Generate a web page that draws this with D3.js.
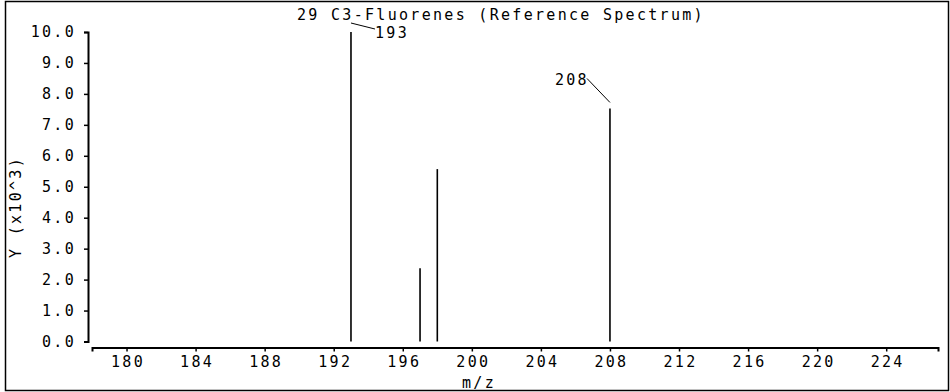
<!DOCTYPE html>
<html><head><meta charset="utf-8">
<script src="https://cdn.jsdelivr.net/npm/d3@7"></script>
<style>
html,body{margin:0;padding:0;background:#fff;}
text{font-family:"DejaVu Sans Mono",monospace;font-size:15px;fill:#000;letter-spacing:2.3px;}
</style></head>
<body>
<svg id="c" width="950" height="392"></svg>
<script>
const titleText = "29 C3-Fluorenes (Reference Spectrum)";
const mz = [193, 197, 198, 208];
const intensity = [10.0, 2.37, 5.57, 7.53];
const xTicks = [180, 184, 188, 192, 196, 200, 204, 208, 212, 216, 220, 224];
const yTicks = [0, 1, 2, 3, 4, 5, 6, 7, 8, 9, 10];
const labeledPeaks = [193, 208];
const xLabel = "m/z";
const yLabel = "Y (x10^3)";

const svg = d3.select("#c");
const x = d3.scaleLinear().domain([178, 227]).range([92, 938]);
const y = d3.scaleLinear().domain([0, 10]).range([341.5, 32]);

// frame
svg.append("rect").attr("x", 5.5).attr("y", 1.5).attr("width", 943).attr("height", 389)
  .attr("fill", "none").attr("stroke", "#000").attr("stroke-width", 1.5);

// y axis
const ya = svg.append("g").attr("transform", "translate(88,0)")
  .call(d3.axisLeft(y).tickValues(yTicks).tickFormat(d3.format(".1f")).tickSizeOuter(0).tickSize(4).tickPadding(10));
ya.select(".domain").attr("stroke", "#000").attr("stroke-width", 2);
ya.selectAll(".tick line").attr("stroke", "#000").attr("stroke-width", 1.5);
ya.selectAll(".tick text").style("font-family", "DejaVu Sans Mono").style("font-size", "15px").attr("dx", "2px");

// x axis
const xa = svg.append("g").attr("transform", "translate(0,347.5)")
  .call(d3.axisBottom(x).tickValues(xTicks).tickFormat(d3.format("d")).tickSizeOuter(0).tickSize(4).tickPadding(5));
xa.select(".domain").attr("stroke", "#000").attr("stroke-width", 2);
xa.selectAll(".tick line").attr("stroke", "#000").attr("stroke-width", 1.5);
xa.selectAll(".tick text").style("font-family", "DejaVu Sans Mono").style("font-size", "15px").attr("dx", "1px");

// peaks
const peaks = mz.map((m, i) => ({m, v: intensity[i]}));
svg.append("g").selectAll("line").data(peaks).join("line")
  .attr("x1", d => x(d.m)).attr("x2", d => x(d.m))
  .attr("y1", y(0)).attr("y2", d => y(d.v))
  .attr("stroke", "#000").attr("stroke-width", 1.6);

// peak labels with leader lines
const lab = peaks.filter(d => labeledPeaks.includes(d.m));
lab.forEach(d => {
  const px = x(d.m), py = y(d.v);
  if (d.m === 193) {
    svg.append("line").attr("x1", px).attr("y1", py - 9).attr("x2", px + 24).attr("y2", py - 3)
      .attr("stroke", "#000").attr("stroke-width", 1);
    svg.append("text").attr("x", px + 24).attr("y", py + 6).text(String(d.m));
  } else {
    svg.append("line").attr("x1", px - 23).attr("y1", py - 30).attr("x2", px).attr("y2", py - 6)
      .attr("stroke", "#000").attr("stroke-width", 1);
    svg.append("text").attr("x", px - 55).attr("y", py - 23).text(String(d.m));
  }
});

// title
svg.append("text").attr("x", 501).attr("y", 20).attr("text-anchor", "middle").text(titleText);
// axis labels
svg.append("text").attr("x", 479).attr("y", 388).attr("text-anchor", "middle").text(xLabel);
svg.append("text").attr("transform", "translate(21,207) rotate(-90)").attr("text-anchor", "middle").text(yLabel);
</script>
</body></html>
